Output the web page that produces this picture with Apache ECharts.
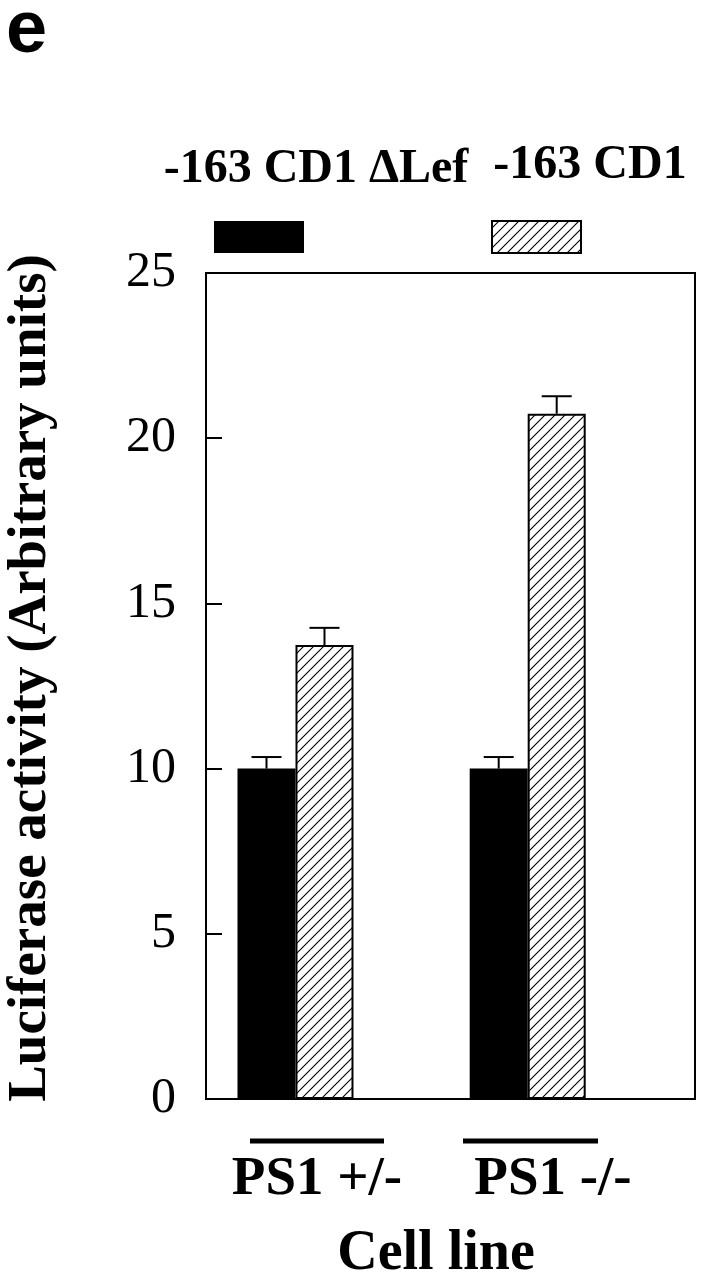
<!DOCTYPE html>
<html>
<head>
<meta charset="utf-8">
<script src="https://cdn.jsdelivr.net/npm/echarts@6/dist/echarts.min.js"></script>
<style>
  html, body { margin: 0; padding: 0; background: #fff; }
  #chart { width: 704px; height: 1280px; }
</style>
</head>
<body>
<div id="chart"></div>
<script>
// ---- data ----
const categories = ['PS1 +/-', 'PS1 -/-'];
const seriesNames = ['-163 CD1 \u0394Lef', '-163 CD1'];
const deltaLefValues = [10.0, 10.0];
const deltaLefErrors = [0.35, 0.35];
const cd1Values = [13.74, 20.74];
const cd1Errors = [0.52, 0.53];
const yTicks = [0, 5, 10, 15, 20, 25];
const yTitle = 'Luciferase activity (Arbitrary units)';
const xTitle = 'Cell line';
const panelLetter = 'e';

// ---- hatch pattern ----
function makeHatch() {
  const c = document.createElement('canvas');
  c.width = 10; c.height = 10;
  const g = c.getContext('2d');
  g.fillStyle = '#fff';
  g.fillRect(0, 0, 10, 10);
  g.strokeStyle = '#000';
  g.lineWidth = 1.1;
  g.beginPath();
  g.moveTo(-1, 11); g.lineTo(11, -1);
  g.moveTo(-6, 6); g.lineTo(6, -6);
  g.moveTo(4, 16); g.lineTo(16, 4);
  g.stroke();
  return c;
}
const hatch = { image: makeHatch(), repeat: 'repeat' };

const BAR_W = 58;
const serif = 'Liberation Serif';

const barData = (vals) => vals.map((v, i) => [i + 1, v]);
const errData = (vals, errs) => vals.map((v, i) => [i + 1, v, errs[i]]);

function errRenderer(offset) {
  return function (params, api) {
    const x = api.value(0), y = api.value(1), e = api.value(2);
    const p0 = api.coord([x, y]);
    const p1 = api.coord([x, y + e]);
    const cx = p0[0] + offset;
    return {
      type: 'group',
      children: [
        { type: 'line', shape: { x1: cx, y1: p0[1], x2: cx, y2: p1[1] }, style: { stroke: '#000', lineWidth: 2 } },
        { type: 'line', shape: { x1: cx - 15, y1: p1[1], x2: cx + 15, y2: p1[1] }, style: { stroke: '#000', lineWidth: 2 } }
      ]
    };
  };
}

const chart = echarts.init(document.getElementById('chart'), null, { renderer: 'canvas' });

const option = {
  backgroundColor: '#fff',
  animation: false,
  grid: {
    left: 206, right: 9, top: 273, bottom: 181,
    outerBoundsMode: 'none', containLabel: false,
    show: true, borderColor: '#000', borderWidth: 2, backgroundColor: 'transparent'
  },
  xAxis: {
    type: 'value', min: 0.6146, max: 2.7205, show: false
  },
  yAxis: {
    type: 'value', min: yTicks[0], max: yTicks[yTicks.length - 1], interval: 5,
    axisLine: { show: true, lineStyle: { color: '#000', width: 2 } },
    axisTick: { show: true, inside: true, length: 16, lineStyle: { color: '#000', width: 2 } },
    splitLine: { show: false },
    axisLabel: { color: '#000', fontFamily: serif, fontSize: 50, margin: 30, padding: [6, 0, 0, 0] },
    name: yTitle,
    nameLocation: 'middle',
    nameRotate: 90,
    nameGap: 148,
    nameTextStyle: { color: '#000', fontFamily: serif, fontWeight: 'bold', fontSize: 55, padding: [0, 0, 0, 16] }
  },
  series: [
    {
      name: seriesNames[0], type: 'bar', data: barData(deltaLefValues),
      barWidth: BAR_W, barGap: '0%',
      itemStyle: { color: '#000', borderWidth: 0 }
    },
    {
      name: seriesNames[1], type: 'bar', data: barData(cd1Values),
      barWidth: BAR_W, barGap: '0%',
      itemStyle: { color: hatch, borderColor: '#000', borderWidth: 2 }
    },
    {
      type: 'custom', data: errData(deltaLefValues, deltaLefErrors),
      renderItem: errRenderer(-BAR_W / 2), z: 5
    },
    {
      type: 'custom', data: errData(cd1Values, cd1Errors),
      renderItem: errRenderer(BAR_W / 2), z: 5
    }
  ],
  graphic: [
    { type: 'text', left: 6, top: -5, style: { text: panelLetter, fontFamily: 'Liberation Sans', fontWeight: 'bold', fontSize: 74, fill: '#000' } },
    { type: 'text', x: 316, y: 170, style: { text: seriesNames[0], fontFamily: serif, fontWeight: 'bold', fontSize: 48, fill: '#000', align: 'center', verticalAlign: 'middle' } },
    { type: 'text', x: 590, y: 166, style: { text: seriesNames[1], fontFamily: serif, fontWeight: 'bold', fontSize: 48, fill: '#000', align: 'center', verticalAlign: 'middle' } },
    { type: 'rect', shape: { x: 214, y: 221, width: 90, height: 32 }, style: { fill: '#000' } },
    { type: 'rect', shape: { x: 492, y: 221, width: 89, height: 32 }, style: { fill: hatch, stroke: '#000', lineWidth: 2 } },
    { type: 'line', shape: { x1: 250, y1: 1141, x2: 384, y2: 1141 }, style: { stroke: '#000', lineWidth: 5 } },
    { type: 'line', shape: { x1: 463, y1: 1141, x2: 598, y2: 1141 }, style: { stroke: '#000', lineWidth: 5 } },
    { type: 'text', x: 317, y: 1180, style: { text: categories[0], fontFamily: serif, fontWeight: 'bold', fontSize: 55, fill: '#000', align: 'center', verticalAlign: 'middle' } },
    { type: 'text', x: 553, y: 1180, style: { text: categories[1], fontFamily: serif, fontWeight: 'bold', fontSize: 55, fill: '#000', align: 'center', verticalAlign: 'middle' } },
    { type: 'text', x: 436, y: 1255, style: { text: xTitle, fontFamily: serif, fontWeight: 'bold', fontSize: 56, fill: '#000', align: 'center', verticalAlign: 'middle' } }
  ]
};
chart.setOption(option);
</script>
</body>
</html>
